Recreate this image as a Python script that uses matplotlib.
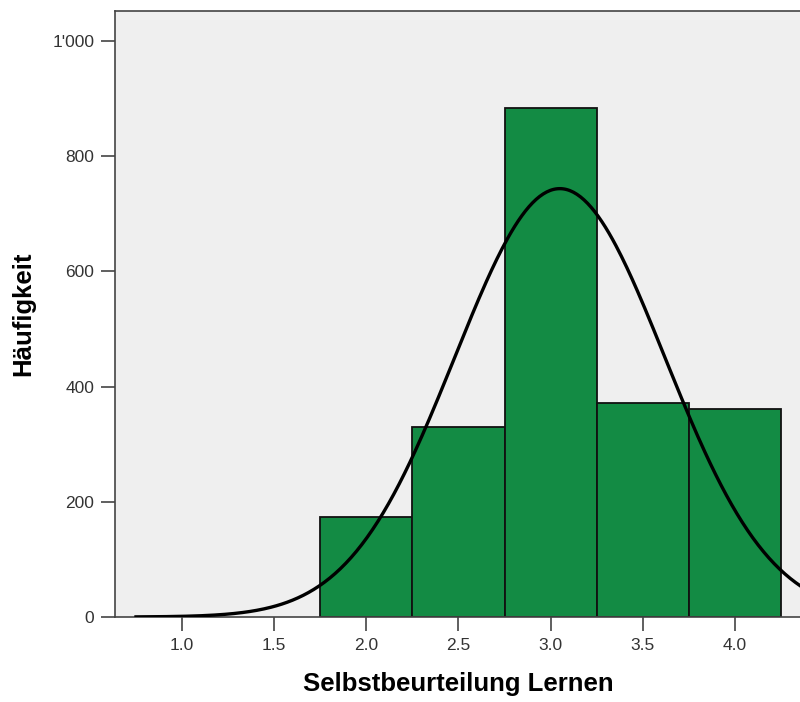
import numpy as np
import matplotlib
matplotlib.use("Agg")
import matplotlib.pyplot as plt
from matplotlib.ticker import FuncFormatter

# Histogram of self-assessment scores with fitted normal curve
bin_left = [1.75, 2.25, 2.75, 3.25, 3.75]
bin_width = 0.5
counts = [174, 330, 884, 372, 361]

curve_mean = 3.05
curve_sd = 0.57
n_total = 2125
curve_start = 0.75

x_ticks = [1.0, 1.5, 2.0, 2.5, 3.0, 3.5, 4.0]
y_ticks = [0, 200, 400, 600, 800, 1000]

plt.rcParams['font.family'] = ['Liberation Sans', 'DejaVu Sans']

fig = plt.figure(figsize=(8.0, 7.02), dpi=100)
ax = fig.add_axes([0.14375, 0.1211, 0.8575, 0.8632])
ax.set_facecolor('#EFEFEF')

ax.bar(bin_left, counts, width=bin_width, align='edge',
       color='#138B44', edgecolor='#111111', linewidth=1.3, zorder=2)

xs = np.linspace(curve_start, 4.6, 400)
ys = n_total * bin_width / (curve_sd * np.sqrt(2 * np.pi)) * np.exp(-0.5 * ((xs - curve_mean) / curve_sd) ** 2)
ax.plot(xs, ys, color='black', linewidth=2.4, zorder=3)

ax.set_xlim(0.636, 4.359)
ax.set_ylim(0, 1052)
ax.set_xticks(x_ticks)
ax.set_yticks(y_ticks)
ax.xaxis.set_major_formatter(FuncFormatter(lambda v, p: f"{v:.1f}"))
ax.yaxis.set_major_formatter(FuncFormatter(lambda v, p: f"{int(v):,}".replace(",", "'")))
ax.tick_params(axis='both', direction='out', length=10, width=1.2,
               color='#444444', labelcolor='#333333', labelsize=12.5)
ax.tick_params(axis='y', pad=5)
ax.tick_params(axis='x', pad=5)

for side in ['left', 'bottom', 'top']:
    ax.spines[side].set_color('#444444')
    ax.spines[side].set_linewidth(1.2)
ax.spines['right'].set_visible(False)

ax.set_xlabel('Selbstbeurteilung Lernen', fontsize=18.5, fontweight='bold', labelpad=14)
ax.set_ylabel('Häufigkeit', fontsize=18.5, fontweight='bold', labelpad=12)

fig.savefig('out.png', dpi=100)
